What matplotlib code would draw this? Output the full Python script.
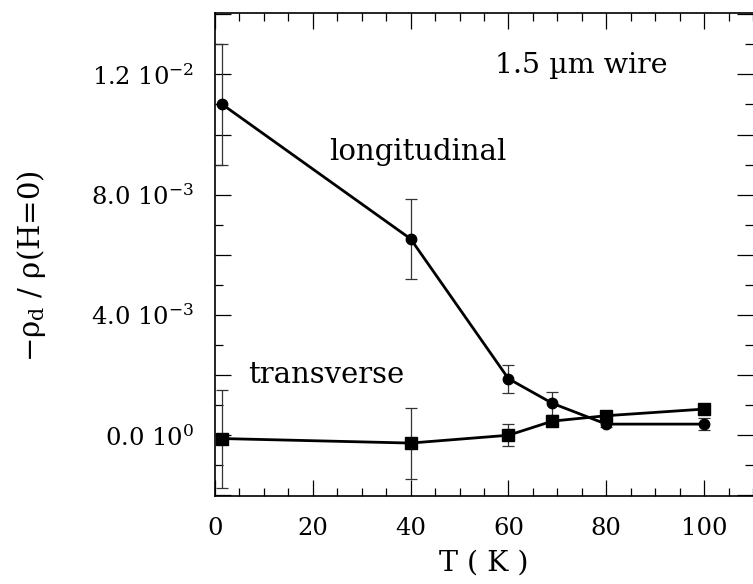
import numpy as np
import matplotlib.pyplot as plt
from matplotlib.ticker import MultipleLocator

plt.rcParams['font.family'] = ['DejaVu Serif']
plt.rcParams['mathtext.fontset'] = 'custom'
plt.rcParams['mathtext.rm'] = 'DejaVu Serif'
plt.rcParams['mathtext.it'] = 'DejaVu Serif:italic'

# data
T_long = [1.5, 40, 60, 69, 80, 100]
rho_long = [0.0110, 0.00653, 0.00188, 0.00106, 0.00037, 0.00037]
err_long = [0.0020, 0.00134, 0.00046, 0.00039, 0.00008, 0.00019]

T_trans = [1.5, 40, 60, 69, 80, 100]
rho_trans = [-0.00011, -0.00026, 0.0, 0.00047, 0.00065, 0.00087]
err_trans = [0.00163, 0.00118, 0.00037, 0.00005, 0.00005, 0.00005]

xtick_vals = [0, 20, 40, 60, 80, 100]
ytick_vals = [-0.002, 0.0, 0.002, 0.004, 0.006, 0.008, 0.010, 0.012, 0.014]
ytick_labels = ['', r'0.0 10$^{0}$', '', r'4.0 10$^{-3}$', '', r'8.0 10$^{-3}$', '',
                r'1.2 10$^{-2}$', '']

fig = plt.figure(figsize=(7.53, 5.84), dpi=100)
ax = fig.add_axes([0.2855, 0.1507, 0.7145, 0.827])

ax.errorbar(T_long, rho_long, yerr=err_long, fmt='none', ecolor='#333333',
            elinewidth=0.9, capsize=4.3, capthick=0.9, zorder=2)
ax.errorbar(T_trans, rho_trans, yerr=err_trans, fmt='none', ecolor='#333333',
            elinewidth=0.9, capsize=4.3, capthick=0.9, zorder=2)
ax.plot(T_long, rho_long, '-o', color='black', lw=2, ms=7.5, zorder=3)
ax.plot(T_trans, rho_trans, '-s', color='black', lw=2, ms=8, zorder=3)

ax.set_xlim(0, 110)
ax.set_ylim(-0.00202, 0.01404)
ax.set_xticks(xtick_vals)
ax.xaxis.set_minor_locator(MultipleLocator(5))
ax.set_yticks(ytick_vals)
ax.set_yticklabels(ytick_labels)
ax.yaxis.set_minor_locator(MultipleLocator(0.001))

ax.spines['right'].set_visible(False)
for s in ['left', 'top', 'bottom']:
    ax.spines[s].set_linewidth(1.2)

ax.tick_params(which='both', direction='in', top=True, right=True, width=0.9,
               labelsize=17.5, pad=15)
ax.tick_params(which='major', length=11.5)
ax.tick_params(which='minor', length=5.5)

ax.set_xlabel('T ( K )', fontsize=20.5, labelpad=7)
ax.set_ylabel('\u2212ρ$_{\\rm d}$ / ρ(H=0)', fontsize=21)
ax.yaxis.set_label_coords(-0.31, 0.476)

ax.text(74.8, 0.01231, '1.5 µm wire', fontsize=20.5, ha='center', va='center')
ax.text(41.5, 0.00942, 'longitudinal', fontsize=21, ha='center', va='center')
ax.text(22.8, 0.0020, 'transverse', fontsize=21, ha='center', va='center')

fig.savefig('out.png', dpi=100)
